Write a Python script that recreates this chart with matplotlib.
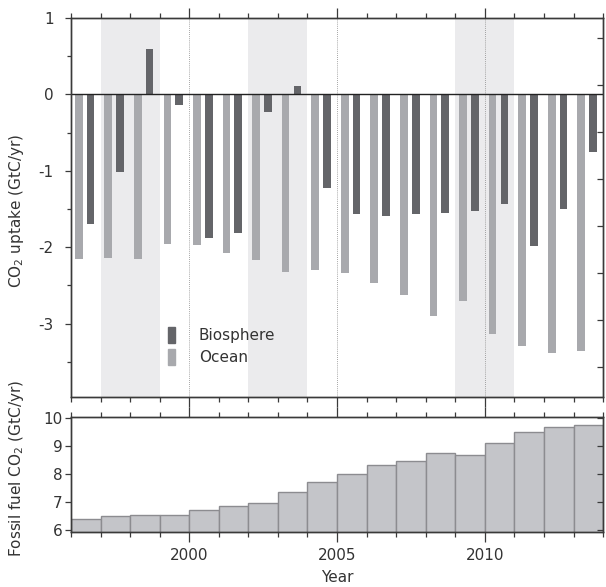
import matplotlib
matplotlib.use("Agg")
import matplotlib.pyplot as plt
from matplotlib.patches import Patch
from matplotlib.ticker import MultipleLocator
import numpy as np

plt.rcParams['font.family'] = ['DejaVu Sans']
plt.rcParams['font.size'] = 11

years = np.arange(1996, 2014)
ocean = [-2.15, -2.14, -2.15, -1.96, -1.97, -2.08, -2.17, -2.33, -2.30,
         -2.34, -2.47, -2.63, -2.90, -2.71, -3.13, -3.29, -3.38, -3.36]
biosphere = [-1.70, -1.02, 0.59, -0.14, -1.88, -1.82, -0.23, 0.11, -1.22,
             -1.57, -1.59, -1.57, -1.55, -1.53, -1.44, -1.98, -1.50, -0.76]
fossil = [6.42, 6.52, 6.56, 6.53, 6.71, 6.87, 6.96, 7.35, 7.71,
          8.02, 8.32, 8.48, 8.74, 8.67, 9.10, 9.48, 9.67, 9.75]
shaded = [(1997, 1999), (2002, 2004), (2009, 2011)]
decades = [2000, 2005, 2010]

c_bio = "#646569"
c_ocean = "#a8a9ad"
c_shade = "#ebebed"
c_spine = "#3a3a3a"
c_text = "#333333"

fig = plt.figure(figsize=(6.06, 5.87), dpi=100)
ax = fig.add_axes([0.1172, 0.3237, 0.878, 0.6456])
ax2 = fig.add_axes([0.1172, 0.0932, 0.878, 0.1969])

# upper panel: uptake bars
for a, b in shaded:
    ax.axvspan(a, b, color=c_shade, lw=0, zorder=0)
for d in decades:
    ax.axvline(d, color="#888888", lw=0.6, ls=(0, (1, 1.5)), zorder=1)
ax.bar(years + 0.26, ocean, width=0.26, color=c_ocean, zorder=2)
ax.bar(years + 0.66, biosphere, width=0.26, color=c_bio, zorder=2)
ax.axhline(0, color="#222222", lw=1.0, zorder=3)
ax.set_xlim(1996, 2014)
ax.set_ylim(-3.96, 1.0)
ax.set_yticks([1, 0, -1, -2, -3])
ax.set_yticklabels(["1", "0", "-1", "-2", "-3"])
ax.yaxis.set_minor_locator(MultipleLocator(0.5))
ax.set_ylabel("CO$_2$ uptake (GtC/yr)", color=c_text)
ax.yaxis.set_label_coords(-0.085, 0.49)

# unlabelled ticks on the right edge
axr = ax.twinx()
axr.set_ylim(ax.get_ylim())
axr.set_yticks(np.arange(0.735, -3.9, -0.615))
axr.set_yticklabels([])
axr.tick_params(axis="y", direction="in", length=4, width=0.9, color=c_spine)

ax.legend(handles=[Patch(color=c_bio, label="Biosphere"),
                   Patch(color=c_ocean, label="Ocean")],
          loc="upper left", bbox_to_anchor=(0.167, 0.205), frameon=False,
          borderpad=0, handlelength=0.5, handleheight=1.2,
          handletextpad=1.55, labelspacing=0.4, labelcolor=c_text)

# lower panel: fossil fuel emissions
ax2.bar(years, fossil, width=1.0, align="edge", color="#c4c5c9",
        edgecolor="#8c8c90", lw=1.0, zorder=2)
ax2.set_xlim(1996, 2014)
ax2.set_ylim(5.93, 10.04)
ax2.set_yticks([6, 7, 8, 9, 10])
ax2.set_ylabel("Fossil fuel CO$_2$ (GtC/yr)", color=c_text)
ax2.yaxis.set_label_coords(-0.085, 0.55)
ax2.set_xlabel("Year", labelpad=5, color=c_text)

ax2r = ax2.twinx()
ax2r.set_ylim(ax2.get_ylim())
ax2r.set_yticks([6, 7, 8, 9, 10])
ax2r.set_yticklabels([])
ax2r.tick_params(axis="y", direction="in", length=4, width=0.9, color=c_spine)

for a in (ax, ax2):
    a.set_xticks(decades)
    a.xaxis.set_minor_locator(MultipleLocator(1))
    a.tick_params(axis="x", which="both", top=True, bottom=True,
                  direction="out", color=c_spine, width=0.9,
                  labelcolor=c_text)
    a.tick_params(axis="x", which="major", length=7)
    a.tick_params(axis="x", which="minor", length=3.5)
    a.tick_params(axis="y", which="major", direction="out", length=4.5,
                  width=0.9, color=c_spine, pad=1.5, labelcolor=c_text)
    a.tick_params(axis="y", which="minor", direction="out", length=3,
                  width=0.9, color=c_spine)
for a in (ax, ax2, axr, ax2r):
    for s in a.spines.values():
        s.set_color(c_spine)
        s.set_linewidth(1.0)

ax.tick_params(axis="x", labelbottom=False)
ax.tick_params(axis="y", which="major", pad=8)
ax2.tick_params(axis="x", which="major", pad=4)

fig.savefig("out.png", dpi=100)
